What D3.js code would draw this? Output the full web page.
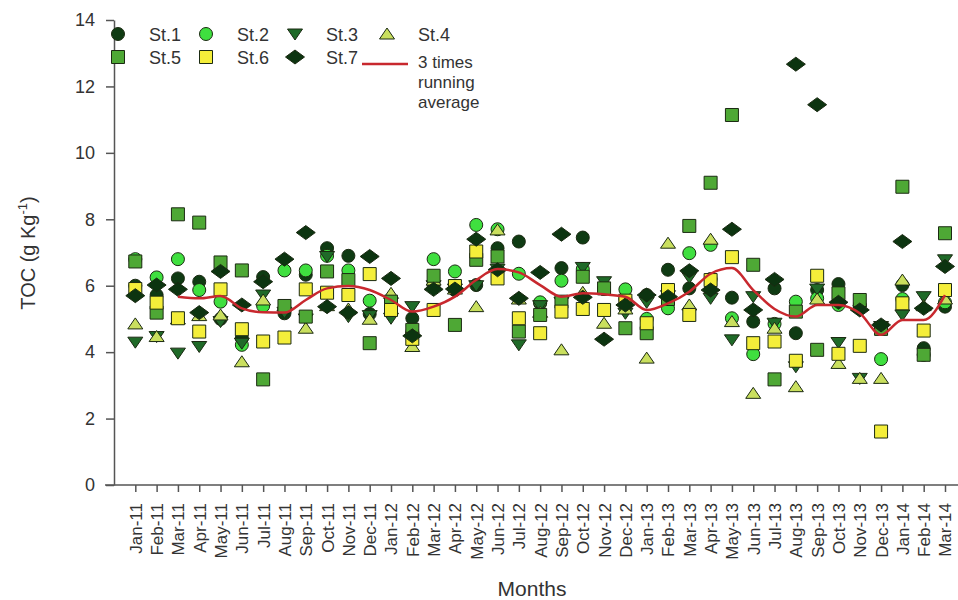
<!DOCTYPE html>
<html>
<head>
<meta charset="utf-8">
<script src="https://cdn.jsdelivr.net/npm/d3@7"></script>
<style>
  body { margin: 0; background: #fff; }
  svg { display: block; font-family: "Liberation Sans", Arial, sans-serif; }
  .tick text { fill: #333; }
  .domain, .tick line { stroke: #555; stroke-width: 1.5; }
</style>
</head>
<body>
<svg id="chart"></svg>
<script>
// month labels (x categories)
const months = [
  "Jan-11","Feb-11","Mar-11","Apr-11","May-11","Jun-11","Jul-11","Aug-11","Sep-11","Oct-11","Nov-11","Dec-11",
  "Jan-12","Feb-12","Mar-12","Apr-12","May-12","Jun-12","Jul-12","Aug-12","Sep-12","Oct-12","Nov-12","Dec-12",
  "Jan-13","Feb-13","Mar-13","Apr-13","May-13","Jun-13","Jul-13","Aug-13","Sep-13","Oct-13","Nov-13","Dec-13",
  "Jan-14","Feb-14","Mar-14"
];

const stationNames = ["St.1", "St.2", "St.3", "St.4", "St.5", "St.6", "St.7"];

// TOC values per station, one per month
const st1 = [6.0,5.72,6.22,6.12,5.0,4.42,6.26,5.17,6.33,7.13,6.9,5.15,5.3,5.02,6.0,5.87,6.02,7.13,7.33,5.47,6.53,7.45,5.9,5.6,5.72,6.48,5.92,6.2,5.64,4.92,5.92,4.57,5.87,6.05,5.4,4.75,6.02,4.12,5.37];
const st2 = [6.8,6.25,6.8,5.87,5.52,4.22,5.39,6.46,6.46,6.9,6.46,5.55,5.5,4.6,6.8,6.43,7.83,7.7,6.36,5.5,6.15,6.5,5.9,5.89,5.0,5.32,6.98,7.23,5.02,3.94,4.85,5.52,5.62,5.42,5.4,3.79,5.6,3.92,5.5];
const st3 = [4.3,4.47,3.97,4.17,4.92,4.27,5.72,5.2,5.0,6.88,5.07,5.1,5.02,5.37,6.0,5.9,6.0,6.5,4.22,5.4,5.5,6.55,6.12,5.17,5.5,5.7,6.25,5.62,4.37,5.67,4.87,3.56,5.9,4.29,3.21,4.77,5.12,5.67,6.78];
const st4 = [4.85,4.47,5.0,5.1,5.12,3.71,5.57,5.4,4.72,5.4,5.3,4.99,5.77,4.17,6.17,5.9,5.37,7.68,5.6,5.2,4.07,5.8,4.87,5.3,3.82,7.28,5.42,7.4,4.92,2.76,4.72,2.96,5.6,3.66,3.21,3.21,6.17,5.4,5.6];
const st5 = [6.73,5.19,8.15,7.9,6.7,6.46,3.18,5.39,5.07,6.43,6.17,4.27,5.52,4.67,6.3,4.82,6.78,6.88,4.62,5.12,5.52,6.27,5.92,4.72,4.57,5.6,7.8,9.1,11.14,6.63,3.18,5.22,4.07,5.77,5.57,4.7,8.98,3.92,7.58];
const st6 = [5.9,5.49,5.02,4.62,5.89,4.69,4.32,4.44,5.89,5.79,5.72,6.35,5.27,4.4,5.27,5.99,7.03,6.22,5.02,4.57,5.22,5.3,5.27,5.55,4.87,5.87,5.12,6.17,6.86,4.27,4.32,3.74,6.3,3.95,4.19,1.61,5.47,4.65,5.87];
const st7 = [5.7,6.02,5.89,5.19,6.43,5.42,6.12,6.8,7.6,5.37,5.19,6.88,6.22,4.49,5.89,5.9,7.4,6.48,5.62,6.4,7.55,5.65,4.39,5.42,5.72,5.67,6.45,5.87,7.7,5.27,6.19,12.67,11.45,5.5,5.27,4.82,7.33,5.32,6.58];

// 3 times running average, Mar-11 .. Mar-14
const avgStart = 2;
const runningAvg = [5.67,5.62,5.69,5.32,5.2,5.19,5.57,5.92,5.99,5.87,5.57,5.22,5.37,5.67,6.17,6.5,6.4,6.02,5.67,5.77,5.74,5.67,5.27,5.47,5.82,6.36,6.53,5.87,5.3,5.07,5.42,5.42,5.17,4.52,4.97,4.97,5.72];

const yTicks = [0, 2, 4, 6, 8, 10, 12, 14];

const width = 958;
const height = 600;

// marker shapes
const symCircle = { draw(ctx) { ctx.moveTo(6.5, 0); ctx.arc(0, 0, 6.5, 0, 2 * Math.PI); } };
const symSquare = { draw(ctx) { ctx.rect(-6.5, -6.5, 13, 13); } };
const symTriUp = { draw(ctx) { ctx.moveTo(0, -6); ctx.lineTo(7.5, 5); ctx.lineTo(-7.5, 5); ctx.closePath(); } };
const symTriDown = { draw(ctx) { ctx.moveTo(0, 6); ctx.lineTo(7.5, -5); ctx.lineTo(-7.5, -5); ctx.closePath(); } };
const symDiamond = { draw(ctx) { ctx.moveTo(0, -7); ctx.lineTo(9.5, 0); ctx.lineTo(0, 7); ctx.lineTo(-9.5, 0); ctx.closePath(); } };

const styles = [
  { shape: symCircle, fill: "#0f3b13" },
  { shape: symCircle, fill: "#3fdf3f" },
  { shape: symTriDown, fill: "#1f6a28" },
  { shape: symTriUp, fill: "#c9df5e" },
  { shape: symSquare, fill: "#4ea835" },
  { shape: symSquare, fill: "#f4ee3a" },
  { shape: symDiamond, fill: "#0c3410" }
];

const series = [st1, st2, st3, st4, st5, st6, st7].map((vals, i) => ({
  name: stationNames[i],
  style: styles[i],
  points: vals.map((v, j) => ({ m: j, v: v }))
}));

let svg = d3.select("#chart").attr("width", width).attr("height", height);

let xScale = d3.scaleLinear().domain([-1, 38]).range([114, 945]);
let yScale = d3.scaleLinear().domain([0, 14]).range([485, 20]);

// axes
let xAxis = d3.axisBottom(xScale)
  .tickValues(d3.range(months.length))
  .tickFormat((i) => months[i])
  .tickSize(7)
  .tickSizeOuter(0);

let gx = svg.append("g")
  .attr("transform", "translate(0," + yScale(0) + ")")
  .call(xAxis);
gx.select(".domain").attr("d", "M105,0H" + width);
gx.selectAll("text")
  .attr("font-size", 17)
  .attr("transform", "rotate(-90)")
  .attr("text-anchor", "end")
  .attr("x", -18)
  .attr("y", 0)
  .attr("dy", "0.35em");

let yAxis = d3.axisLeft(yScale).tickValues(yTicks).tickSize(8).tickPadding(11).tickSizeOuter(0);
svg.append("g")
  .attr("transform", "translate(" + xScale(-1) + ",0)")
  .call(yAxis)
  .selectAll("text")
  .attr("font-size", 18);

// axis titles
let yTitle = svg.append("text")
  .attr("transform", "translate(35,253) rotate(-90)")
  .attr("text-anchor", "middle")
  .attr("font-size", 20)
  .attr("fill", "#333");
yTitle.append("tspan").text("TOC (g Kg");
yTitle.append("tspan").text("-1").attr("font-size", 13).attr("dy", -8);
yTitle.append("tspan").text(")").attr("dy", 8);

svg.append("text")
  .text("Months")
  .attr("x", 532)
  .attr("y", 596)
  .attr("text-anchor", "middle")
  .attr("font-size", 21)
  .attr("fill", "#333");

// station markers
series.forEach((s) => {
  svg.append("g")
    .selectAll("path")
    .data(s.points)
    .enter()
    .append("path")
    .attr("d", d3.symbol().type(s.style.shape))
    .attr("transform", (d) => "translate(" + xScale(d.m) + "," + yScale(d.v) + ")")
    .attr("fill", s.style.fill)
    .attr("stroke", "#1b2a12")
    .attr("stroke-width", 1);
});

// running average line
let line = d3.line()
  .x((d, i) => xScale(i + avgStart))
  .y((d) => yScale(d))
  .curve(d3.curveMonotoneX);

svg.append("path")
  .datum(runningAvg)
  .attr("d", line)
  .attr("fill", "none")
  .attr("stroke", "#c8282e")
  .attr("stroke-width", 2.5);

// legend
const legCols = [118, 206, 295, 387];
const legRows = [34, 57];
let legend = svg.append("g").attr("font-size", 18).attr("fill", "#333");

series.forEach((s, i) => {
  let lx = legCols[i % 4];
  let ly = legRows[Math.floor(i / 4)];
  legend.append("path")
    .attr("d", d3.symbol().type(s.style.shape))
    .attr("transform", "translate(" + lx + "," + ly + ")")
    .attr("fill", s.style.fill)
    .attr("stroke", "#1b2a12")
    .attr("stroke-width", 1);
  legend.append("text")
    .text(s.name)
    .attr("x", lx + 31)
    .attr("y", ly + 7);
});

legend.append("line")
  .attr("x1", 362).attr("x2", 408)
  .attr("y1", 64).attr("y2", 64)
  .attr("stroke", "#c8282e")
  .attr("stroke-width", 2.5);

["3 times", "running", "average"].forEach((t, i) => {
  legend.append("text").text(t).attr("x", 418).attr("y", 68 + i * 20).attr("font-size", 17);
});
</script>
</body>
</html>
